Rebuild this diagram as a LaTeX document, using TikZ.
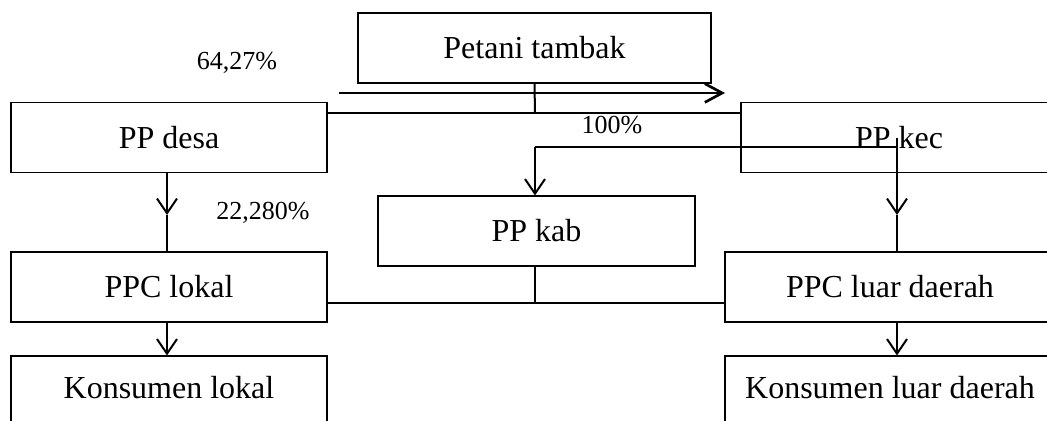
\documentclass[tikz,border=0pt]{standalone}
\usepackage{fontspec}
\setmainfont{Liberation Serif}
\usetikzlibrary{arrows.meta}
\begin{document}
\begin{tikzpicture}[x=0.75pt,y=-0.75pt,
  box/.style={draw, line width=0.8pt, minimum height=52.5pt, inner sep=0pt, font=\fontsize{24}{28}\selectfont},
  pct/.style={font=\fontsize{19.5}{23}\selectfont, inner sep=0pt},
  conn/.style={line width=1pt},
  vline/.style={line width=1.5pt},
  arr/.style={line width=1.5pt, -{Straight Barb[length=11pt,width=15pt]}},
  bigarr/.style={line width=2pt, -{Straight Barb[length=13pt,width=14pt]}}
  ]
\useasboundingbox (0,0) rectangle (1047,421);
\clip (0,0) rectangle (1047,421);
% boxes
\node[box, minimum width=264.75pt] (pet) at (534.5,48) {Petani tambak};
\node[box, minimum width=237pt] (desa) at (169,137.5) {PP desa};
\node[box, minimum width=237pt] (kec) at (899,137.5) {PP kec};
\node[box, minimum width=237.75pt] (kab) at (536.5,231) {PP kab};
\node[box, minimum width=237pt] (lok) at (169,287) {PPC lokal};
\node[box, minimum width=247.5pt] (luar) at (890,287) {PPC luar daerah};
\node[box, minimum width=237pt, text depth=6pt] (klok) at (169,391) {Konsumen lokal};
\node[box, minimum width=247.5pt, text depth=6pt] (kluar) at (890,391) {Konsumen luar daerah};
% labels
\node[pct] (p1) at (237,63) {64,27\%};
\node[pct] (p2) at (612,125) {100\%};
\node[pct] (p3) at (263,213) {22,280\%};
% coordinates
\coordinate (t1) at (339,93);
\coordinate (t2) at (725,93);
\coordinate (j1) at (535,113);
\coordinate (j2) at (535,147);
\coordinate (j3) at (897,147);
\coordinate (j3t) at (897,138);
\coordinate (m1) at (167,215);
\coordinate (m2) at (897,215);
\coordinate (j4) at (535,303);
% connectors
\draw[bigarr] (t1) -- (t2);
\draw[vline] (pet.south) -- (j1);
\draw[conn] (desa.east |- j1) -- (kec.west |- j1);
\draw[conn] (j2) -- (j3);
\draw[arr] (j2) -- (kab.north -| j2);
\draw[arr] (j3t) -- (m2);
\draw[vline] (m2) -- (luar.north -| m2);
\draw[arr] (desa.south -| m1) -- (m1);
\draw[vline] (m1) -- (lok.north -| m1);
\draw[arr] (lok.south -| m1) -- (klok.north -| m1);
\draw[arr] (luar.south -| m2) -- (kluar.north -| m2);
\draw[conn] (lok.east |- j4) -- (luar.west |- j4);
\draw[conn] (kab.south -| j4) -- (j4);
\end{tikzpicture}
\end{document}
